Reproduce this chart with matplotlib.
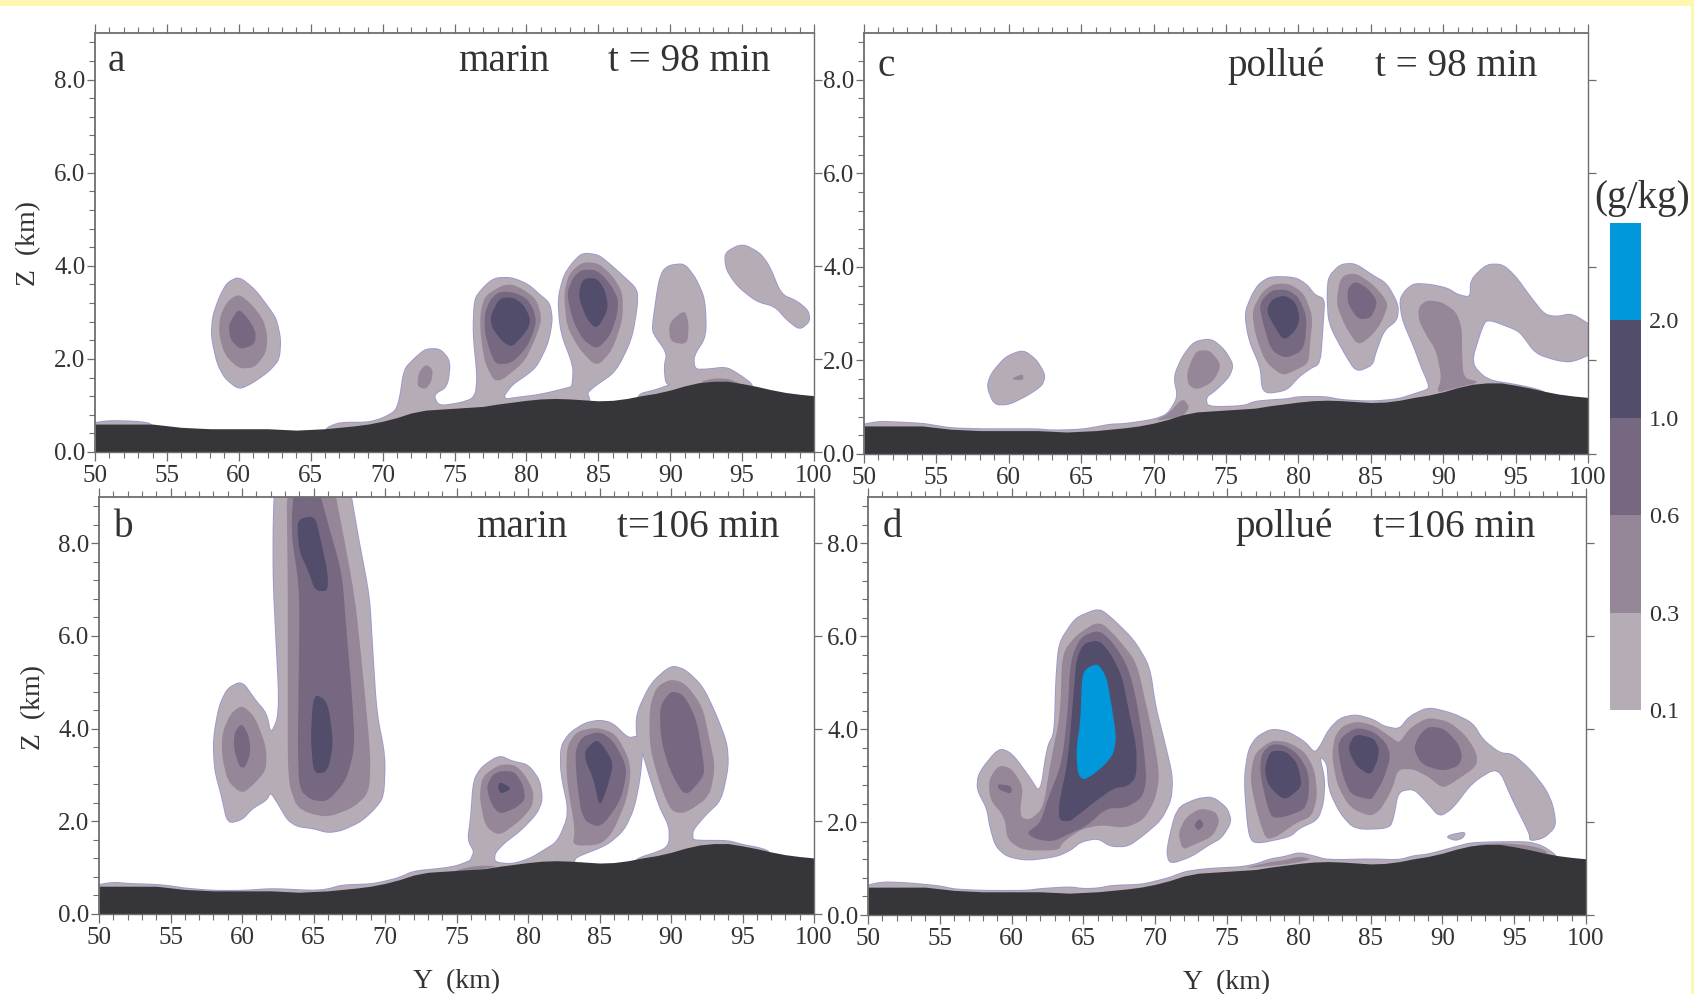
import matplotlib
matplotlib.use("Agg")
import matplotlib.pyplot as plt
from matplotlib.colors import ListedColormap, BoundaryNorm
from matplotlib.cm import ScalarMappable
from matplotlib.patches import Rectangle
from matplotlib.ticker import MultipleLocator, FormatStrFormatter

plt.rcParams['font.family'] = ['Liberation Serif', 'DejaVu Serif']

# ---- colour classes
levels = [0.1, 0.3, 0.6, 1.0, 2.0, 3.0]
level_labels = ['0.1', '0.3', '0.6', '1.0', '2.0']
colors = ['#B6ACB6', '#958798', '#766880', '#524D6B', '#0098DB']
TERRAIN = '#36353A'
EDGE = '#9A98CC'
INK = '#333333'
AXC = '#6E6E6E'

# ---- terrain height (km) along Y (km)
terrain_y = [50, 54, 56, 58, 60, 62, 64, 66, 68, 69, 70, 71, 72, 73, 74, 75, 76, 77, 78, 79, 80, 81, 82, 83,
             84, 85, 86, 87, 88, 89, 90, 91, 92, 93, 94, 95, 96, 97, 98, 99, 100]
terrain_z = [.6, .6, .53, .5, .5, .5, .47, .5, .56, .6, .66, .74, .84, .9, .92, .94, .96, .98, 1.03, 1.07, 1.11,
             1.14, 1.15, 1.14, 1.12, 1.1, 1.11, 1.15, 1.21, 1.26, 1.33, 1.42, 1.49, 1.52, 1.52, 1.47, 1.41, 1.34,
             1.28, 1.24, 1.21]

# ---- panel a: marin, t = 98 min
a_L1 = [
    [(60,3.76),(61.1,3.49),(62.06,3.1),(62.6,2.85),(62.9,2.42),(62.8,1.99),(62.06,1.73),(60.9,1.48),(60,1.35),(59.04,1.59),(58.5,1.91),(58.1,2.49),(58.2,2.92),(58.7,3.35),(59.2,3.63)],
    [(49.5,.6),(51,.67),(53,.65),(54,.6),(54,.3),(49.5,.3)],
    [(66,.2),(66,.5),(67,.63),(69,.63),(70,.72),(70.9,.87),(71.2,1.13),(71.5,1.77),(72.2,2.0),(73,2.21),(74,2.21),(74.7,1.95),(74.5,1.41),(73.5,1.23),(73.9,.98),(75.4,1.05),(76.2,1.13),(76.5,1.27),(76.6,1.63),(76.3,2.56),(76.4,3.28),(76.9,3.49),(77.5,3.67),(78,3.74),(79,3.74),(80.1,3.6),(80.9,3.38),(81.6,3.2),(81.8,2.85),(81.5,2.34),(80.7,1.84),(80,1.66),(79,1.45),(78.4,1.2),(78.6,1.13),(79.2,1.16),(81,1.23),(83,1.38),(83.2,1.41),(83.3,1.84),(82.4,2.56),(82.2,3.28),(82.6,3.78),(83.2,4.06),(83.9,4.27),(85,4.23),(85.8,4.03),(86.7,3.78),(87.7,3.49),(87.7,3.13),(87.3,2.42),(86.2,1.73),(84.7,1.41),(84.2,1.27),(84.4,1.13),(84.4,.7)],
    [(87.7,.8),(87.7,1.23),(89,1.33),(90.1,1.45),(89.7,1.48),(89.6,1.84),(89.8,2.13),(88.8,2.56),(88.8,2.77),(89.2,3.63),(89.5,3.9),(90,4.01),(91,4.04),(91.8,3.71),(92.4,3.28),(92.5,2.49),(91.6,2.06),(91.7,1.77),(92.5,1.77),(93.9,1.82),(94.8,1.66),(95.8,1.43),(95.8,1.0)],
    [(95,4.47),(96.2,4.28),(96.9,3.99),(97.7,3.38),(98.8,3.24),(99.6,3.03),(99.7,2.81),(99,2.63),(98.1,2.85),(97.3,3.13),(96,3.24),(94.7,3.56),(93.9,3.92),(93.8,4.28)],
]
a_L2 = [
    [(60,3.4),(60.9,3.17),(61.7,2.85),(62,2.49),(61.9,2.13),(61.1,1.81),(60,1.79),(59,2.09),(58.6,2.56),(58.7,2.92),(59.2,3.24)],
    [(73,1.89),(73.5,1.77),(73.4,1.52),(73,1.34),(72.4,1.41),(72.5,1.7)],
    [(78.3,3.58),(79,3.6),(79.8,3.49),(80.7,3.28),(81.1,2.85),(80.5,2.34),(79.8,1.91),(77.9,1.45),(77.1,1.91),(76.8,2.56),(76.8,2.99),(77.1,3.35)],
    [(83.9,4.08),(85,4.06),(86,3.78),(86.7,3.42),(86.7,2.85),(86,2.2),(84.9,1.82),(83.7,2.2),(82.8,2.7),(82.6,3.42),(83,3.85)],
    [(91,3.06),(91.3,2.77),(91.2,2.31),(90,2.36),(89.9,2.77)],
    [(92,1.5),(93,1.58),(94,1.58),(95,1.45),(93,1.4)],
]
a_L3 = [
    [(60,3.08),(60.7,2.85),(61.2,2.56),(61.1,2.31),(60.1,2.2),(59.4,2.42),(59.3,2.7),(59.5,2.85)],
    [(78.1,3.44),(79,3.44),(80,3.31),(80.5,3.06),(80.7,2.77),(80.1,2.27),(79,1.91),(77.9,1.88),(77.5,2.13),(77.1,2.56),(77.1,2.99),(77.5,3.28)],
    [(83.9,3.92),(84.9,3.91),(85.8,3.63),(86.4,3.28),(86.3,2.92),(85.8,2.49),(84.9,2.2),(83.9,2.42),(83.2,2.85),(82.8,3.42),(83.3,3.78)],
]
a_L4 = [
    [(78.1,3.3),(79,3.33),(79.8,3.17),(80.3,2.85),(80.1,2.63),(79,2.24),(78.3,2.38),(77.6,2.67),(77.5,2.92)],
    [(83.9,3.72),(84.9,3.74),(85.5,3.46),(85.7,3.06),(84.9,2.63),(84.2,2.85),(83.6,3.35)],
]

# ---- panel b: marin, t = 106 min
b_L1 = [
    [(62.35,9.6),(62.2,8.44),(62.2,7.2),(62.4,5.92),(62.6,4.69),(62.5,4.19),(62,3.87),(61.7,4.33),(60.9,4.62),(60,5.02),(59,4.87),(58.4,4.48),(58,3.76),(58.1,3.11),(58.6,2.53),(59,1.96),(60,2.04),(60.7,2.28),(61.7,2.46),(62,2.64),(62.6,2.35),(63.2,2.03),(63.9,1.89),(65,1.85),(66,1.76),(67,1.81),(68.3,2.0),(69.2,2.25),(69.9,2.53),(70,3.4),(69.4,4.33),(69.1,5.77),(68.9,6.85),(68.1,8.15),(67.3,9.6)],
    [(49.5,.1),(49.5,.6),(51,.68),(52,.65),(54,.63),(55,.6),(56,.55),(58,.5),(60,.5),(62,.54),(63,.53),(65,.5),(66,.53),(67,.62),(69,.64),(70,.7),(71,.78),(72,.92),(74,.98),(75,1.03),(76,1.15),(76.1,1.24),(76.25,1.35),(75.8,1.6),(76,2.03),(76.2,2.89),(76.8,3.18),(78,3.42),(78.9,3.29),(80,3.22),(80.8,2.89),(81,2.46),(80.6,2.17),(79.5,1.81),(78.3,1.53),(77.65,1.31),(77.65,1.11),(78.9,1.07),(80.2,1.2),(81,1.35),(82.1,1.56),(82.9,2.17),(82.3,3.04),(82.3,3.61),(82.9,3.9),(84,4.12),(85,4.18),(85.9,4.12),(87,3.79),(87.6,3.83),(88.1,3.85),(88,3.51),(87.8,2.89),(87.4,2.28),(86.7,1.81),(85.5,1.49),(83.4,1.24),(83.2,1.14),(83.2,.8)],
    [(87.4,.9),(87.4,1.17),(89.5,1.38),(89.9,1.53),(89.9,1.89),(89.2,2.32),(88.6,2.89),(88,3.51),(87.6,3.83),(87.6,4.33),(88.6,4.98),(90,5.36),(91,5.27),(92.2,4.91),(93.1,4.33),(93.9,3.69),(94,3.18),(93.5,2.46),(92.4,2.14),(91.5,1.81),(91.5,1.6),(92,1.58),(94,1.58),(95,1.49),(96.1,1.43),(96.9,1.35),(96.9,1.0)],
]
b_L2 = [
    [(60,4.51),(60.9,4.26),(61.7,3.61),(61.7,3.11),(60.9,2.82),(60,2.59),(59,2.86),(58.6,3.4),(58.6,3.9),(59.2,4.33)],
    [(63.1,9.6),(63.2,7.2),(63.2,5.05),(63.2,2.89),(63.8,2.32),(64.7,2.17),(66,2.09),(67.7,2.28),(68.9,2.61),(69,3.4),(68.5,5.05),(67.9,6.85),(66.8,8.65),(66.2,9.6)],
    [(78,3.23),(79.1,3.22),(79.8,3.0),(80.4,2.64),(80.3,2.32),(79.5,2.03),(78,1.68),(77,1.89),(76.6,2.53),(76.8,2.97)],
    [(84.8,4.03),(86.1,3.9),(87,3.4),(87.2,3.04),(86.9,2.46),(85.9,1.74),(85,1.49),(83.1,1.47),(83.3,1.81),(82.7,2.89),(82.7,3.61),(83.4,3.94)],
    [(90,5.07),(91,4.98),(92.2,4.48),(92.7,3.76),(93.1,3.18),(92.7,2.53),(91,2.17),(90,2.21),(89.2,2.82),(88.5,3.61),(88.5,4.48),(89,4.91)],
    [(75,.95),(76,1.02),(77,1.05),(78,1.02),(75,.9)],
]
b_L3 = [
    [(60,4.12),(60.5,3.83),(60.6,3.47),(60.2,3.15),(59.8,3.18),(59.4,3.61),(59.5,3.94)],
    [(63.75,9.6),(65,9.6),(66,8.44),(67,7.36),(67.3,6.13),(67.7,4.69),(67.9,3.61),(67.3,2.89),(66,2.43),(64.9,2.45),(64,2.68),(63.9,3.61),(64,5.77),(64,7.07),(63.4,8.29)],
    [(78.1,3.09),(79.1,3.07),(79.7,2.75),(79.8,2.46),(79.1,2.28),(78,2.15),(77.4,2.39),(77.1,2.75),(77.5,3.0)],
    [(85,3.94),(85.9,3.76),(86.7,3.33),(86.9,3.04),(86.5,2.46),(85.1,1.85),(83.8,2.03),(83.4,2.89),(83.3,3.54),(83.8,3.83)],
    [(90,4.82),(90.9,4.73),(91.8,4.19),(92.3,3.25),(92.3,2.97),(91,2.51),(89.9,3.11),(89.3,3.76),(89.2,4.48)],
]
b_L4 = [
    [(63.9,8.52),(65.1,8.6),(65.5,8.08),(66,7.36),(66,6.96),(65.1,6.98),(64.7,7.36),(64.05,7.79),(63.9,8.15)],
    [(65,4.77),(66,4.59),(66.4,3.69),(66,3.07),(65,3.02),(64.8,3.83)],
    [(78,2.86),(78.9,2.71),(78.1,2.59),(77.9,2.71)],
    [(84.8,3.77),(85.3,3.61),(86,3.25),(85.5,2.68),(85,2.3),(84.6,2.89),(84,3.33),(84,3.54)],
]

# ---- panel c: pollue, t = 98 min
c_L1 = [
    [(61,2.22),(61.9,2.01),(62.5,1.69),(62.3,1.47),(61.3,1.26),(60,1.06),(59,1.06),(58.5,1.44),(58.8,1.72),(59.8,2.08)],
    [(49.5,.1),(49.5,.6),(51,.69),(52,.68),(54,.65),(55,.6),(56,.55),(58,.53),(60,.53),(62,.53),(63,.5),(65,.52),(66,.57),(67,.63),(68,.64),(70,.73),(71,.85),(71.7,1.22),(71.4,1.65),(72,2.08),(72.8,2.4),(74,2.46),(74.9,2.22),(75.5,1.9),(75.2,1.65),(74.3,1.37),(73.6,1.22),(73.7,1.0),(76.2,1.02),(77,1.12),(78.1,1.15),(79.2,1.17),(80,1.22),(81.9,1.22),(83,1.15),(85.1,1.12),(86.9,1.17),(88.2,1.3),(89,1.38),(89,1.51),(88.5,1.86),(88,2.29),(87.2,2.86),(87,3.29),(87.4,3.5),(88,3.64),(89.1,3.62),(90.3,3.54),(91,3.4),(91.9,3.34),(91.9,3.72),(93,4.05),(94.1,4.05),(95,3.79),(96,3.36),(97,2.97),(97.9,2.93),(98.9,3.0),(100.5,2.68),(100.5,2.18),(98.9,1.97),(97.9,2.0),(96.4,2.15),(95.4,2.58),(94.9,2.68),(93,2.9),(92.6,2.65),(91.9,1.94),(93,1.58),(95.2,1.47),(96.6,1.37),(97.1,1.3),(97,1.0)],
    [(78.1,3.79),(79.8,3.77),(80.6,3.61),(81.1,3.4),(81.8,3.31),(81.7,2.86),(81.5,1.94),(80.8,1.83),(80,1.65),(79.2,1.37),(77.9,1.3),(77.5,1.4),(77.4,1.86),(76.6,2.43),(76.3,3.0),(76.8,3.4),(77.3,3.64)],
    [(82.9,4.05),(83.9,4.07),(85.1,3.82),(86.1,3.64),(86.9,3.18),(86.8,2.86),(85.9,2.65),(85.3,2.15),(85.1,1.9),(84,1.76),(83.2,2.15),(82.1,2.79),(82,3.43),(82.1,3.79)],
]
c_L2 = [
    [(61,1.72),(61,1.57),(60.1,1.6)],
    [(73,2.21),(73.9,2.22),(74.7,1.9),(74.1,1.54),(73,1.37),(72.4,1.47),(72.3,1.72),(72.6,2.0)],
    [(78.3,3.64),(79.4,3.64),(80.4,3.43),(81,2.93),(80.8,2.36),(80.7,1.94),(79.8,1.79),(78.9,1.67),(77.7,1.97),(77,2.58),(76.8,3.07),(77.5,3.47)],
    [(83.9,3.88),(85.1,3.64),(85.9,3.36),(86.2,3.18),(85.7,2.79),(85.1,2.54),(84.1,2.31),(83.2,2.75),(82.6,3.22),(82.9,3.79)],
    [(88.9,3.29),(89.9,3.25),(90.9,3.04),(91.3,2.68),(91.3,2.15),(91.4,1.62),(92.6,1.54),(90.7,1.4),(89.5,1.3),(89.9,1.62),(89.5,2.22),(88.9,2.5),(88.3,2.86),(88.3,3.15)],
    [(70,.7),(71,.85),(72,1.2),(72.5,1.0),(72,.8)],
]
c_L3 = [
    [(78.1,3.5),(79.2,3.52),(80,3.36),(80.6,2.93),(80.4,2.22),(79.1,2.04),(78.1,2.22),(77.5,2.86),(77.3,3.22)],
    [(83.9,3.7),(84.8,3.54),(85.5,3.25),(85,2.9),(84.1,2.88),(83.4,3.22),(83.4,3.54)],
]
c_L4 = [
    [(79,3.4),(79.8,3.25),(80.1,2.93),(79.9,2.68),(79,2.41),(78.3,2.75),(77.8,3.04),(78.1,3.29)],
]

# ---- panel d: pollue, t = 106 min
d_L1 = [
    [(59.1,3.59),(60,3.48),(61.2,2.98),(62,2.59),(62.5,3.63),(63,3.91),(63.1,5.06),(63.3,5.85),(64.2,6.28),(64.65,6.42),(66.1,6.6),(67.1,6.35),(68.5,5.92),(69.6,5.35),(70,4.49),(70.6,3.77),(71.2,2.98),(71.1,2.48),(70.4,2.05),(69.2,1.73),(68.1,1.48),(66.9,1.48),(66,1.66),(64.8,1.58),(64.1,1.4),(63.1,1.26),(61.1,1.18),(59.7,1.26),(58.9,1.48),(58.5,1.91),(58.3,2.3),(57.6,2.7),(57.7,3.05)],
    [(74,2.54),(75,2.3),(75.3,2.01),(74.6,1.66),(73.7,1.51),(72.5,1.26),(71,1.1),(70.8,1.4),(71.5,2.3),(72.9,2.5)],
    [(78.1,4.0),(79.2,3.95),(80.4,3.73),(81.1,3.48),(81.5,3.63),(82.1,3.99),(82.9,4.24),(84,4.31),(85.2,4.2),(85.9,4.06),(87,3.99),(87.7,4.27),(89,4.47),(90.7,4.34),(92.1,4.13),(92.8,3.77),(94,3.48),(94.9,3.46),(96.1,3.13),(97.2,2.7),(97.7,2.34),(97.9,1.91),(97.05,1.66),(96.1,1.6),(96.1,1.75),(94.9,2.48),(93.9,3.2),(92.1,2.87),(90.7,2.3),(89.8,2.12),(89,2.41),(88,2.73),(86.9,2.66),(86.6,2.12),(86.3,1.87),(83.9,1.85),(82.9,2.19),(82.1,2.7),(82,3.27),(81.4,3.45),(81.8,2.91),(81.7,2.41),(81.3,2.05),(80,1.87),(79.4,1.69),(76.9,1.53),(76.5,1.76),(76.2,2.91),(76.5,3.56),(77.1,3.84)],
    [(90.7,1.73),(91.6,1.78),(91.4,1.66),(90.9,1.61),(90.3,1.68)],
    [(49.5,.1),(49.5,.6),(51,.71),(53,.68),(55,.62),(56,.55),(58,.52),(61,.52),(62,.56),(64,.6),(65,.56),(66,.57),(67,.63),(69,.65),(70,.72),(71,.8),(72,.92),(73,.97),(74,1.0),(76,1.03),(77,1.09),(78,1.2),(79,1.25),(80,1.34),(81,1.27),(82,1.18),(85,1.2),(87,1.18),(88,1.27),(89,1.3),(91,1.47),(92,1.55),(94,1.57),(96,1.57),(97,1.48),(98,1.26),(98,1.0)],
]
d_L2 = [
    [(59.1,3.23),(60,3.16),(60.8,2.77),(60.6,2.27),(60.7,2.09),(61.3,2.05),(62.2,2.3),(62.7,3.27),(63.4,4.34),(63.5,5.63),(64.5,6.03),(66.1,6.34),(67.3,5.99),(68.7,5.45),(69.4,4.49),(70,3.63),(70.3,2.98),(70,2.48),(69.2,2.05),(67.9,1.87),(66.2,1.94),(64.8,1.84),(63.5,1.55),(63.3,1.39),(60.8,1.39),(59.7,1.62),(59.5,2.12),(58.5,2.48),(58.4,2.91)],
    [(73.1,2.3),(74.2,2.23),(74.5,2.01),(74,1.69),(72.7,1.51),(71.9,1.4),(71.6,1.76),(72.1,2.09)],
    [(78.1,3.76),(79.2,3.73),(80.4,3.52),(81.1,3.13),(81.3,2.55),(80.9,2.12),(79.8,1.98),(78.5,1.69),(77.7,1.62),(77.1,2.19),(76.6,2.91),(76.9,3.48)],
    [(84,4.17),(85.2,4.09),(86.5,3.81),(87,3.7),(87.7,4.02),(89,4.26),(90.5,4.16),(91.7,3.84),(92.4,3.48),(92.4,3.2),(90.7,2.84),(90,2.73),(89,2.98),(88,3.14),(86.9,3.14),(86.5,2.7),(85.7,2.27),(85,2.12),(83.6,2.3),(82.7,2.77),(82.3,3.41),(82.5,3.84),(83,4.06)],
    [(92,1.5),(94,1.55),(96,1.5),(97,1.42),(97.5,1.3),(94,1.4)],
    [(76,1.0),(78,1.14),(79,1.18),(80,1.26),(81,1.2),(79,1.08)],
]
d_L3 = [
    [(59,2.82),(60,2.78),(60,2.6),(59.1,2.7)],
    [(66.1,6.14),(67.1,5.85),(68.1,5.35),(68.7,4.63),(69.2,3.63),(69.4,2.91),(69.1,2.52),(67.9,2.3),(66.6,2.3),(65.2,1.91),(64.1,1.76),(62.9,1.58),(61.8,1.62),(61,1.76),(62,1.98),(62.5,2.48),(63.5,3.27),(63.9,4.34),(64.1,5.49),(64.8,5.99)],
    [(73.1,2.09),(73.4,1.94),(73,1.81),(72.7,1.94)],
    [(78.1,3.68),(79,3.66),(80,3.45),(80.7,3.05),(80.7,2.55),(80.4,2.27),(79,2.11),(78.1,2.09),(77.7,2.48),(77.3,3.05),(77.4,3.48)],
    [(84,4.04),(85.2,3.95),(86.1,3.7),(86.4,3.41),(85.9,2.91),(85.2,2.55),(85,2.48),(83.6,2.59),(83,3.05),(82.7,3.63),(83,3.84)],
    [(89,4.06),(90.1,4.02),(91.1,3.7),(91.4,3.41),(91.1,3.2),(90,3.1),(88.6,3.23),(88,3.56),(88.3,3.84)],
]
d_L4 = [
    [(66.1,5.92),(66.9,5.63),(67.7,5.13),(68.1,4.49),(68.7,3.63),(68.7,2.98),(68.1,2.77),(67.1,2.73),(65.8,2.44),(64.5,2.12),(64,2.01),(63.3,2.04),(63.3,2.41),(63.9,3.27),(64.3,4.7),(64.5,5.49),(65,5.85)],
    [(78,3.54),(79.1,3.53),(79.9,3.27),(80.2,2.84),(80,2.7),(79,2.46),(77.9,2.77),(77.6,3.13)],
    [(83.9,3.9),(85.2,3.81),(85.6,3.59),(85.5,3.34),(85,3.0),(84,3.2),(83.4,3.59)],
]
d_L5 = [
    [(66,5.42),(66.6,5.13),(66.9,4.63),(67.3,3.84),(67.1,3.48),(66.6,3.27),(65.8,3.05),(65,2.9),(64.6,3.05),(64.5,3.56),(64.8,4.2),(64.9,5.13),(65.2,5.31)],
]

panel_polys = {
    'a': [a_L1, a_L2, a_L3, a_L4],
    'b': [b_L1, b_L2, b_L3, b_L4],
    'c': [c_L1, c_L2, c_L3, c_L4],
    'd': [d_L1, d_L2, d_L3, d_L4, d_L5],
}

W, H = 1694, 994
fig = plt.figure(figsize=(W / 100, H / 100), dpi=100, facecolor='white')

def box(x0, y0, x1, y1):
    return [x0 / W, 1 - y1 / H, (x1 - x0) / W, (y1 - y0) / H]

def put(x, y, s, size, **kw):
    kw.setdefault('color', INK)
    fig.text(x / W, 1 - y / H, s, fontsize=size, **kw)

def soften(p, q=0.2, passes=2):
    """Trim the corners of a closed outline so that it reads as a contour."""
    for _ in range(passes):
        out = []
        for i, (x0, y0) in enumerate(p):
            x1, y1 = p[(i + 1) % len(p)]
            out.append((x0 + q * (x1 - x0), y0 + q * (y1 - y0)))
            out.append((x1 - q * (x1 - x0), y1 - q * (y1 - y0)))
        p = out
    return p

# pale yellow page frame
fig.patches.append(Rectangle((0, 1 - 6 / H), 1, 6 / H, transform=fig.transFigure, fc='#FFF7AF', ec='none'))
fig.patches.append(Rectangle((1691 / W, 0), 3 / W, 1, transform=fig.transFigure, fc='#FFF7AF', ec='none'))

frames = {
    'a': (95, 33, 814, 452),
    'c': (864, 33, 1588, 454),
    'b': (99, 497, 814, 914),
    'd': (868, 497, 1586, 915),
}

for key, (x0, y0, x1, y1) in frames.items():
    ax = fig.add_axes(box(x0, y0, x1, y1))
    ax.set_xlim(50, 100)
    ax.set_ylim(0, 9)
    for i, polys in enumerate(panel_polys[key]):
        shapes = [soften(p) for p in polys]
        if i == 0:
            for p in shapes:
                xs, ys = zip(*p)
                ax.fill(xs, ys, fc='none', ec=EDGE, lw=1.3, zorder=1, joinstyle='round')
        for p in shapes:
            xs, ys = zip(*p)
            ax.fill(xs, ys, fc=colors[i], ec='none', zorder=2 + i)
    ax.fill_between(terrain_y, 0, terrain_z, color=TERRAIN, lw=0, zorder=10)

    ax.xaxis.set_major_locator(MultipleLocator(5))
    ax.xaxis.set_minor_locator(MultipleLocator(1))
    ax.yaxis.set_major_locator(MultipleLocator(2))
    ax.yaxis.set_minor_locator(MultipleLocator(0.4))
    ax.yaxis.set_major_formatter(FormatStrFormatter('%.1f'))
    ax.tick_params(axis='x', which='major', direction='out', top=True, bottom=True, length=6.5, width=0.9,
                   color=AXC, labelsize=18, labelcolor=INK, pad=3)
    ax.tick_params(axis='x', which='minor', direction='out', top=True, bottom=True, length=4, width=0.8, color=AXC)
    ax.tick_params(axis='y', which='major', direction='out', left=True, right=True, length=6, width=0.9,
                   color=AXC, labelsize=18, labelcolor=INK, pad=1)
    ax.tick_params(axis='y', which='minor', direction='out', left=True, right=False, length=4.5, width=0.8, color=AXC)
    for side, sp in ax.spines.items():
        sp.set_color(AXC)
        sp.set_linewidth(1.3 if side in ('top', 'left') else 1.0)
        sp.set_zorder(12)

# panel letters and titles (x px, baseline px)
panel_text = [
    (108, 71, 'a'), (458, 71, 'marin'), (608, 71, 't = 98 min'),
    (877, 76, 'c'), (1227, 76, 'pollué'), (1375, 76, 't = 98 min'),
    (114, 537, 'b'), (476, 537, 'marin'), (617, 537, 't=106 min'),
    (883, 537, 'd'), (1235, 537, 'pollué'), (1373, 537, 't=106 min'),
]
for x, y, s in panel_text:
    put(x, y, s, 28.2, ha='left', va='baseline')

put(29, 243, 'Z  (km)', 20, rotation=90, ha='center', va='center')
put(34, 707, 'Z  (km)', 20, rotation=90, ha='center', va='center')
put(457, 982, 'Y  (km)', 20, ha='center', va='center')
put(1227, 983, 'Y  (km)', 20, ha='center', va='center')

# colour bar
cax = fig.add_axes(box(1610, 223, 1641, 710))
cb = fig.colorbar(ScalarMappable(norm=BoundaryNorm(levels, len(colors)), cmap=ListedColormap(colors)),
                  cax=cax, spacing='uniform', drawedges=False)
cb.outline.set_visible(False)
cb.set_ticks(levels[:-1])
cb.set_ticklabels(level_labels)
cb.minorticks_off()
cax.tick_params(length=0, labelsize=17.5, labelcolor=INK, pad=5.5)
put(1594, 208, '(g/kg)', 28.2, ha='left', va='baseline')

fig.savefig('out.png', dpi=100, facecolor='white')
